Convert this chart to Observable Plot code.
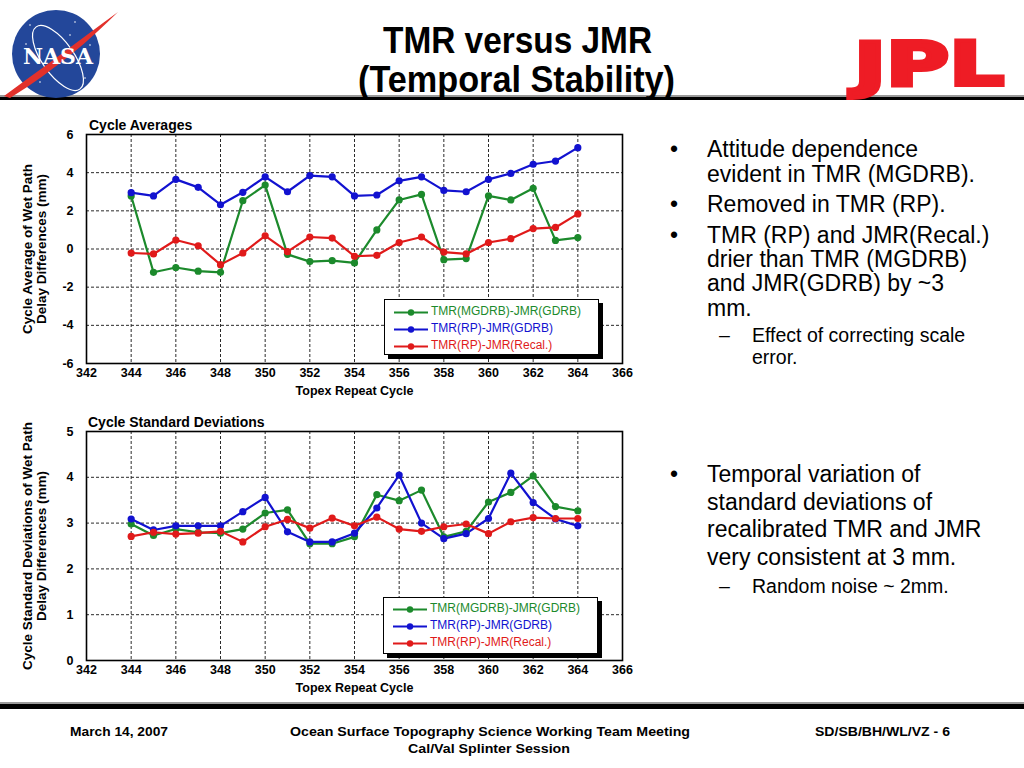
<!DOCTYPE html>
<html>
<head>
<meta charset="utf-8">
<script src="https://cdn.jsdelivr.net/npm/d3@7"></script>
<script src="https://cdn.jsdelivr.net/npm/@observablehq/plot@0.6"></script>
<style>
  html, body { margin: 0; padding: 0; background: #fff; }
  #page { position: relative; width: 1024px; height: 768px; overflow: hidden; background: #fff; font-family: "Liberation Sans", Arial, sans-serif; }
  .abs { position: absolute; }
  .ctitle { font: bold 14px "Liberation Sans", Arial, sans-serif; color: #000; white-space: nowrap; }
  .legend { background: #fff; border: 1px solid #000; box-shadow: 4px 4px 0 #000; box-sizing: border-box; }
  .legend .row { position: relative; height: 17px; line-height: 17px; white-space: nowrap; font: 12px "Liberation Sans", Arial, sans-serif; }
  .legend svg { position: absolute; left: 8px; top: 3px; }
  .legend span { position: absolute; left: 46px; top: 0; }
</style>
</head>
<body>
<div id="page">
  <svg id="deco" class="abs" style="left:0;top:0" width="1024" height="768"></svg>
  <div id="chart1" class="abs" style="left:0;top:115px"></div>
  <div id="chart2" class="abs" style="left:0;top:411px"></div>
  <div class="abs ctitle" style="left:89px;top:117px">Cycle Averages</div>
  <div class="abs ctitle" style="left:88px;top:414px">Cycle Standard Deviations</div>
  <div id="legend1" class="abs legend" style="left:384px;top:299px;width:215px;height:56px;padding-top:4px"></div>
  <div id="legend2" class="abs legend" style="left:383px;top:597px;width:215px;height:57px;padding-top:3px"></div>
</div>
<script>
// ---------------- data ----------------
const cycles = [344,345,346,347,348,349,350,351,352,353,354,355,356,357,358,359,360,361,362,363,364];
const seriesNames = ["TMR(MGDRB)-JMR(GDRB)", "TMR(RP)-JMR(GDRB)", "TMR(RP)-JMR(Recal.)"];
const seriesColors = ["#1c8a2c", "#1212d0", "#e01a1a"];
const xTicks = [342,344,346,348,350,352,354,356,358,360,362,364,366];
const avgTicks = [-6,-4,-2,0,2,4,6];
const sdTicks = [0,1,2,3,4,5];

// Cycle averages (mm)
const avgMGDRB  = [2.78,-1.22,-0.97,-1.16,-1.22,2.53,3.35,-0.28,-0.66,-0.61,-0.73,1.00,2.57,2.86,-0.56,-0.50,2.78,2.57,3.18,0.45,0.60];
const avgRPGDRB = [2.95,2.78,3.65,3.23,2.32,2.97,3.78,3.00,3.85,3.78,2.78,2.83,3.57,3.78,3.07,3.00,3.65,3.96,4.44,4.61,5.31];
const avgRPRecal= [-0.21,-0.26,0.47,0.17,-0.82,-0.21,0.69,-0.14,0.63,0.57,-0.38,-0.33,0.34,0.63,-0.16,-0.26,0.34,0.54,1.07,1.13,1.84];

// Cycle standard deviations (mm)
const sdMGDRB   = [2.98,2.73,2.87,2.80,2.78,2.87,3.22,3.29,2.55,2.55,2.70,3.62,3.49,3.72,2.70,2.82,3.46,3.67,4.03,3.36,3.27];
const sdRPGDRB  = [3.09,2.85,2.94,2.94,2.94,3.25,3.56,2.81,2.59,2.59,2.78,3.33,4.05,3.00,2.66,2.77,3.10,4.09,3.45,3.09,2.94];
const sdRPRecal = [2.71,2.80,2.76,2.78,2.82,2.59,2.92,3.08,2.89,3.11,2.94,3.13,2.87,2.82,2.92,2.98,2.77,3.03,3.12,3.10,3.10];

// ---------------- charts ----------------
function rowsOf(arrays) {
  return arrays.flatMap((vals, i) => vals.map((v, j) => ({cycle: cycles[j], value: v, series: seriesNames[i]})));
}

function makeChart({rows, yDomain, yTicks, yLabel, height, marginTop, marginBottom}) {
  return Plot.plot({
    width: 640, height, marginLeft: 86, marginRight: 18, marginTop, marginBottom,
    style: {fontFamily: "'Liberation Sans', Arial, sans-serif", fontSize: "12px", fontWeight: "bold", color: "#000", background: "transparent", overflow: "visible"},
    x: {domain: [342, 366]},
    y: {domain: yDomain},
    color: {domain: seriesNames, range: seriesColors},
    marks: [
      Plot.gridX(xTicks, {stroke: "#2a2a2a", strokeOpacity: 1, strokeWidth: 1, strokeDasharray: "3,2"}),
      Plot.gridY(yTicks, {stroke: "#2a2a2a", strokeOpacity: 1, strokeWidth: 1, strokeDasharray: "3,2"}),
      Plot.frame({stroke: "#000", strokeWidth: 1.6}),
      Plot.axisX(xTicks, {tickSize: 0, tickPadding: 5, fontSize: 12.5, tickFormat: d => String(d), label: "Topex Repeat Cycle", labelAnchor: "center", labelArrow: "none", labelOffset: 31}),
      Plot.axisY(yTicks, {tickSize: 0, tickPadding: 13, fontSize: 12.5, tickFormat: d => String(d), label: null}),
      Plot.axisY([], {tickSize: 0, fontSize: 13.5, lineHeight: 0.9, label: yLabel, labelAnchor: "center", labelArrow: "none", labelOffset: 64}),
      Plot.line(rows, {x: "cycle", y: "value", stroke: "series", z: "series", strokeWidth: 2.2}),
      Plot.dot(rows, {x: "cycle", y: "value", fill: "series", r: 3.6})
    ]
  });
}

document.getElementById("chart1").append(makeChart({
  rows: rowsOf([avgMGDRB, avgRPGDRB, avgRPRecal]),
  yDomain: [-6, 6], yTicks: avgTicks,
  yLabel: "Cycle Average of Wet Path\nDelay Differences (mm)",
  height: 285, marginTop: 19, marginBottom: 37
}));
document.getElementById("chart2").append(makeChart({
  rows: rowsOf([sdMGDRB, sdRPGDRB, sdRPRecal]),
  yDomain: [0, 5], yTicks: sdTicks,
  yLabel: "Cycle Standard Deviations of Wet Path\nDelay Differences (mm)",
  height: 286, marginTop: 20, marginBottom: 37
}));

// ---------------- legends ----------------
function fillLegend(el) {
  seriesNames.forEach((name, i) => {
    const row = document.createElement("div");
    row.className = "row";
    row.innerHTML = `<svg width="36" height="11"><line x1="1" x2="35" y1="5.5" y2="5.5" stroke="${seriesColors[i]}" stroke-width="2"/><circle cx="18" cy="5.5" r="3.2" fill="${seriesColors[i]}"/></svg><span style="color:${seriesColors[i]}">${name}</span>`;
    el.append(row);
  });
}
fillLegend(document.getElementById("legend1"));
fillLegend(document.getElementById("legend2"));

// ---------------- slide decoration & text ----------------
const ns = "http://www.w3.org/2000/svg";
const deco = document.getElementById("deco");
function el(tag, attrs, text) {
  const e = document.createElementNS(ns, tag);
  for (const k in attrs) e.setAttribute(k, attrs[k]);
  if (text != null) e.textContent = text;
  deco.append(e);
  return e;
}
// header & footer rules
el("rect", {x: 0, y: 95, width: 1024, height: 2, fill: "#9a9a9a"});
el("rect", {x: 0, y: 97, width: 1024, height: 3, fill: "#000"});
el("rect", {x: 0, y: 702, width: 1024, height: 2, fill: "#9a9a9a"});
el("rect", {x: 0, y: 704, width: 1024, height: 5, fill: "#000"});

// NASA logo
el("circle", {cx: 56, cy: 54, r: 44, fill: "#23479a"});
el("ellipse", {cx: 58, cy: 58, rx: 16, ry: 38, fill: "none", stroke: "#fff", "stroke-width": 1.2, transform: "rotate(-35 58 58)"});
el("path", {d: "M4,96 C40,70 80,40 118,12 C90,40 55,70 10,98 Z", fill: "#e2312b"});
el("text", {x: 23, y: 64, fill: "#fff", "font-family": "'DejaVu Serif', 'Liberation Serif', serif", "font-weight": "bold", "font-size": 22, textLength: 70, lengthAdjust: "spacingAndGlyphs"}, "NASA");
[[30,25],[75,22],[85,78],[40,82],[70,35],[26,44],[90,45]].forEach(([x, y]) => el("circle", {cx: x, cy: y, r: 0.8, fill: "#fff"}));

// JPL logo
el("text", {x: 854, y: 85, fill: "#ee1c25", stroke: "#ee1c25", "stroke-width": 4, "stroke-linejoin": "miter", "font-family": "'DejaVu Sans', sans-serif", "font-weight": "bold", "font-size": 60, textLength: 150, lengthAdjust: "spacingAndGlyphs"}, "JPL");

// title
const narrow = "'Liberation Sans Narrow', 'Arial Narrow', 'Liberation Sans', Arial, sans-serif";
el("text", {x: 383, y: 53, fill: "#000", "font-family": narrow, "font-weight": "bold", "font-size": 36, textLength: 269, lengthAdjust: "spacingAndGlyphs"}, "TMR versus JMR");
el("text", {x: 358, y: 92, fill: "#000", "font-family": narrow, "font-weight": "bold", "font-size": 36, textLength: 317, lengthAdjust: "spacingAndGlyphs"}, "(Temporal Stability)");

// footer
el("text", {x: 70, y: 736, fill: "#000", "font-family": narrow, "font-weight": "bold", "font-size": 13.5, textLength: 98, lengthAdjust: "spacingAndGlyphs"}, "March 14, 2007");
el("text", {x: 290, y: 736, fill: "#000", "font-family": narrow, "font-weight": "bold", "font-size": 13.5, textLength: 400, lengthAdjust: "spacingAndGlyphs"}, "Ocean Surface Topography Science Working Team Meeting");
el("text", {x: 408, y: 753, fill: "#000", "font-family": narrow, "font-weight": "bold", "font-size": 13.5, textLength: 162, lengthAdjust: "spacingAndGlyphs"}, "Cal/Val Splinter Session");
el("text", {x: 815, y: 736, fill: "#000", "font-family": narrow, "font-weight": "bold", "font-size": 13.5, textLength: 135, lengthAdjust: "spacingAndGlyphs"}, "SD/SB/BH/WL/VZ - 6");

// bullets
const sans = "'Liberation Sans', Arial, sans-serif";
const bullets = [
  {kind: "b", y: 157, t: "Attitude dependence"},
  {kind: "c", y: 182, t: "evident in TMR (MGDRB)."},
  {kind: "b", y: 212, t: "Removed in TMR (RP)."},
  {kind: "b", y: 243, t: "TMR (RP) and JMR(Recal.)"},
  {kind: "c", y: 267, t: "drier than TMR (MGDRB)"},
  {kind: "c", y: 291, t: "and JMR(GDRB) by ~3"},
  {kind: "c", y: 316, t: "mm."},
  {kind: "s", y: 342, t: "Effect of correcting scale"},
  {kind: "sc", y: 364, t: "error."},
  {kind: "b", y: 482, t: "Temporal variation of"},
  {kind: "c", y: 510, t: "standard deviations of"},
  {kind: "c", y: 537, t: "recalibrated TMR and JMR"},
  {kind: "c", y: 565, t: "very consistent at 3 mm."},
  {kind: "s", y: 593, t: "Random noise ~ 2mm."}
];
bullets.forEach(b => {
  const big = b.kind === "b" || b.kind === "c";
  const fs = big ? 23 : 19.5;
  if (b.kind === "b") el("text", {x: 670, y: b.y, "font-family": sans, "font-size": 23, fill: "#000"}, "•");
  if (b.kind === "s") el("text", {x: 719, y: b.y, "font-family": sans, "font-size": 19.5, fill: "#000"}, "–");
  el("text", {x: big ? 707 : 752, y: b.y, "font-family": sans, "font-size": fs, fill: "#000"}, b.t);
});
</script>
</body>
</html>
